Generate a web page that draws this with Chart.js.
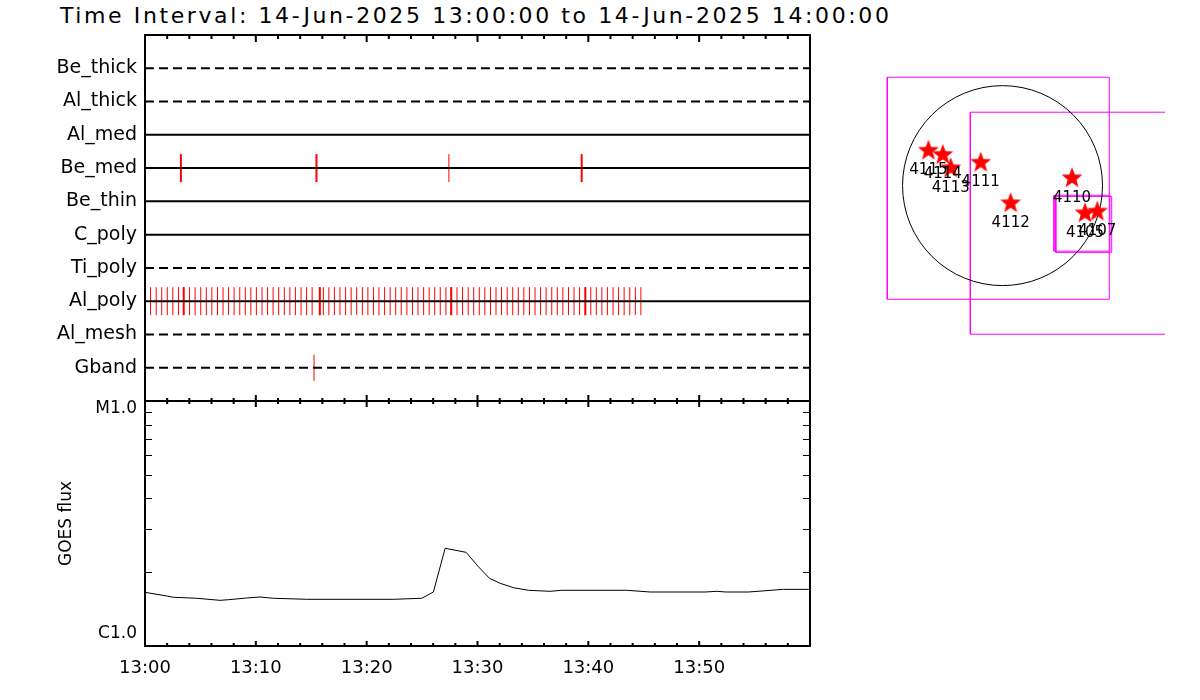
<!DOCTYPE html>
<html><head><meta charset="utf-8">
<script src="https://cdn.jsdelivr.net/npm/chart.js@4.4.1/dist/chart.umd.min.js"></script>
<style>
body{margin:0;background:#fff;width:1200px;height:700px;overflow:hidden;position:relative;font-family:"DejaVu Sans",sans-serif;}
canvas{position:absolute;}
#title{position:absolute;left:60px;top:3px;font-size:22px;letter-spacing:2.6px;color:#000;white-space:nowrap;line-height:26px;}
</style></head><body>
<div id="title">Time Interval: 14-Jun-2025 13:00:00 to 14-Jun-2025 14:00:00</div>
<canvas id="c1" width="820" height="450" style="left:0;top:0"></canvas>
<canvas id="c2" width="820" height="330" style="left:0;top:370px"></canvas>
<canvas id="c3" width="290" height="290" style="left:875px;top:60px"></canvas>
<script>
// ---------------- DATA ----------------
const filterNames = ['Be_thick','Al_thick','Al_med','Be_med','Be_thin','C_poly','Ti_poly','Al_poly','Al_mesh','Gband'];
// exposure times, minutes after 13:00
const beMedTimes = [3.24, 15.47, 27.42, 39.40];
const gbandTimes = [15.25];
const alPolyTimes = [0.00,0.50,1.01,1.51,2.01,2.51,3.02,3.49,4.02,4.52,5.03,5.53,6.03,6.54,7.04,7.54,8.04,8.55,9.05,9.55,
  10.05,10.56,11.06,11.56,12.06,12.57,13.07,13.57,14.08,14.58,15.08,15.77,16.09,16.59,17.09,17.59,18.10,18.60,19.10,19.61,
  20.11,20.61,21.11,21.62,22.12,22.62,23.12,23.63,24.13,24.63,25.14,25.64,26.14,26.64,27.15,27.63,28.15,28.65,29.16,29.66,
  30.16,30.66,31.17,31.67,32.17,32.68,33.18,33.68,34.18,34.69,35.19,35.69,36.19,36.70,37.20,37.70,38.21,38.71,39.21,39.73,
  40.22,40.72,41.22,41.72,42.23,42.73,43.23,43.74,44.24,44.74];
const alPolyDoubleTimes = [3.49, 15.77, 27.63, 39.73];

const timeTickMinutes = [0, 10, 20, 30, 40, 50];
const timeTickLabels = ['13:00','13:10','13:20','13:30','13:40','13:50'];
const majorTickMinutes = [0, 10, 20, 30, 40, 50, 60];
const minorTickMinutes = [2,4,6,8,12,14,16,18,22,24,26,28,32,34,36,38,42,44,46,48,52,54,56,58];

const goesMinutes = [0, 1.96, 2.55, 4.67, 6.77, 7.52, 9.18, 10.38, 11.58, 14.59, 22.41, 24.97, 26.02, 27.08, 28.97,
  30.08, 31.08, 32.04, 33.24, 34.59, 36.55, 37.61, 43.47, 45.58, 50.54, 51.60, 52.4, 54.45, 57.61, 59.96];
const goesFlux = [1.656e-6, 1.600e-6, 1.581e-6, 1.566e-6, 1.536e-6, 1.545e-6, 1.570e-6, 1.585e-6, 1.566e-6, 1.551e-6,
  1.551e-6, 1.566e-6, 1.661e-6, 2.505e-6, 2.412e-6, 2.107e-6, 1.889e-6, 1.803e-6, 1.730e-6, 1.688e-6,
  1.672e-6, 1.688e-6, 1.688e-6, 1.661e-6, 1.661e-6, 1.672e-6, 1.661e-6, 1.661e-6, 1.703e-6, 1.703e-6];
const goesMinorTicks = [2e-6, 3e-6, 4e-6, 5e-6, 6e-6, 7e-6, 8e-6, 9e-6];
const goesTickValues = [1e-5, 1e-6];
const goesTickLabels = ['M1.0', 'C1.0'];

const arNumbers = ['4115','4114','4113','4111','4112','4110','4105','4107'];
const arX = [-700, -564, -489, -206, 77, 656, 779, 895];   // arcsec
const arY = [330, 290, 164, 217, -166, 70, -261, -245];
const solarRadius = 944;
const fovCenterX = [-40, 744, 750, 767];
const fovCenterY = [-25, -355, -355, -366];
const fovSize = [2096, 2096, 528, 528];

// ---------------- STYLE ----------------
const FONT = 'DejaVu Sans';
const dashedRows = {Be_thick:true, Al_thick:true, Ti_poly:true, Al_mesh:true, Gband:true};
const rowY = n => filterNames.indexOf(n) + 1;

function drawXTicks(ctx, xs, y, up, down, lw) {
  ctx.lineWidth = lw;
  ctx.beginPath();
  for (const px of xs) { ctx.moveTo(px, y - up); ctx.lineTo(px, y + down); }
  ctx.stroke();
}

const frame1 = {
  id: 'frame1',
  afterDatasetsDraw(chart) {
    const {ctx, chartArea: a, scales: {x}} = chart;
    ctx.save();
    ctx.strokeStyle = '#000';
    ctx.lineWidth = 2;
    ctx.strokeRect(a.left, a.top, a.right - a.left, a.bottom - a.top);
    const maj = majorTickMinutes.map(v => x.getPixelForValue(v));
    const min = minorTickMinutes.map(v => x.getPixelForValue(v));
    drawXTicks(ctx, maj, a.top, 0, 7, 2);
    drawXTicks(ctx, min, a.top, 0, 4, 2);
    drawXTicks(ctx, maj, a.bottom, 6, 0, 2);
    drawXTicks(ctx, min, a.bottom, 3, 0, 2);
    ctx.restore();
  }
};

const frame2 = {
  id: 'frame2',
  afterDatasetsDraw(chart) {
    const {ctx, chartArea: a, scales: {x, y}} = chart;
    ctx.save();
    ctx.strokeStyle = '#000';
    ctx.lineWidth = 2;
    ctx.strokeRect(a.left, a.top, a.right - a.left, a.bottom - a.top);
    const maj = majorTickMinutes.map(v => x.getPixelForValue(v));
    const min = minorTickMinutes.map(v => x.getPixelForValue(v));
    drawXTicks(ctx, maj, a.top, 0, 6, 2);
    drawXTicks(ctx, min, a.top, 0, 3, 2);
    drawXTicks(ctx, maj, a.bottom, 5, 0, 2);
    drawXTicks(ctx, min, a.bottom, 3, 0, 2);
    ctx.lineWidth = 1;
    ctx.beginPath();
    for (const v of goesMinorTicks) {
      const py = Math.round(y.getPixelForValue(v)) + 0.5;
      ctx.moveTo(a.left, py); ctx.lineTo(a.left + 7, py);
      ctx.moveTo(a.right, py); ctx.lineTo(a.right - 7, py);
    }
    ctx.stroke();
    ctx.fillStyle = '#000';
    ctx.font = '17px "' + FONT + '"';
    ctx.textAlign = 'right';
    ctx.textBaseline = 'middle';
    const offs = [8, -12];
    goesTickValues.forEach((v, i) => {
      ctx.fillText(goesTickLabels[i], a.left - 8, y.getPixelForValue(v) + offs[i]);
    });
    ctx.restore();
  }
};

const arLabels = {
  id: 'arLabels',
  afterDatasetsDraw(chart) {
    const {ctx} = chart;
    const meta = chart.getDatasetMeta(chart.data.datasets.length - 1);
    ctx.save();
    ctx.fillStyle = '#000';
    ctx.font = '15px "' + FONT + '"';
    ctx.textAlign = 'center';
    ctx.textBaseline = 'middle';
    meta.data.forEach((el, i) => ctx.fillText(arNumbers[i], el.x, el.y + 19.5));
    ctx.restore();
  }
};

function makeStar(r) {
  const c = document.createElement('canvas');
  c.width = c.height = 2 * r + 2;
  const g = c.getContext('2d');
  g.fillStyle = '#ff0000';
  g.beginPath();
  for (let i = 0; i < 10; i++) {
    const ang = -Math.PI / 2 + i * Math.PI / 5;
    const rr = i % 2 ? r * 0.42 : r;
    g.lineTo(r + 1 + rr * Math.cos(ang), r + 1 + rr * Math.sin(ang));
  }
  g.closePath();
  g.fill();
  return c;
}

const common = {
  responsive: false, animation: false, events: [],
  plugins: {legend: {display: false}, tooltip: {enabled: false}, title: {display: false}}
};

// ---------------- CHART 1: filter timeline ----------------
const tickSet = (times, name, r, widths) => ({
  data: times.map(t => ({x: t, y: rowY(name)})),
  pointStyle: 'line', pointRotation: 90, pointRadius: r, pointHoverRadius: r,
  pointBorderColor: '#ff0000', pointBorderWidth: widths, order: 1
});
new Chart(document.getElementById('c1'), {
  type: 'scatter',
  data: {datasets: [
    ...filterNames.map(n => ({
      data: [{x: 0, y: rowY(n)}, {x: 60, y: rowY(n)}],
      showLine: true, borderColor: '#000', borderWidth: 2,
      borderDash: dashedRows[n] ? [9, 5] : [], pointRadius: 0, order: 0
    })),
    tickSet(beMedTimes, 'Be_med', 14, [2, 2, 1, 2]),
    tickSet(gbandTimes, 'Gband', 13, 1),
    tickSet(alPolyTimes, 'Al_poly', 14, 1),
    tickSet(alPolyDoubleTimes, 'Al_poly', 14, 2)
  ]},
  options: {
    ...common,
    layout: {autoPadding: false, padding: {top: 35, right: 10, bottom: 49, left: 0}},
    scales: {
      x: {type: 'linear', min: 0, max: 60, display: false},
      y: {
        type: 'linear', min: 0, max: 11, reverse: true,
        grid: {display: false, drawTicks: false}, border: {display: false},
        afterBuildTicks: s => { s.ticks = filterNames.map((n, i) => ({value: i + 1})); },
        ticks: {autoSkip: false, callback: v => filterNames[v - 1] || '', font: {family: FONT, size: 19}, color: '#000', padding: 8},
        afterFit: s => { s.width = 145; }
      }
    }
  },
  plugins: [frame1]
});

// ---------------- CHART 2: GOES flux ----------------
new Chart(document.getElementById('c2'), {
  type: 'scatter',
  data: {datasets: [{
    data: goesMinutes.map((m, i) => ({x: m, y: goesFlux[i]})),
    showLine: true, borderColor: '#000', borderWidth: 1, pointRadius: 0
  }]},
  options: {
    ...common,
    layout: {autoPadding: false, padding: {top: 31, right: 10, bottom: 0, left: 0}},
    scales: {
      x: {
        type: 'linear', min: 0, max: 60, grid: {display: false}, border: {display: false},
        afterBuildTicks: s => { s.ticks = timeTickMinutes.map(v => ({value: v})); },
        ticks: {autoSkip: false, maxRotation: 0, callback: v => timeTickLabels[timeTickMinutes.indexOf(v)] || '',
                font: {family: FONT, size: 18}, color: '#000', padding: 4},
        afterFit: s => { s.height = 54; }
      },
      y: {
        type: 'logarithmic', min: 1e-6, max: 1e-5, grid: {display: false}, border: {display: false},
        ticks: {display: false},
        title: {display: true, text: 'GOES flux', color: '#000', font: {family: FONT, size: 17}, padding: {top: 56, bottom: 0}},
        afterFit: s => { s.width = 145; }
      }
    }
  },
  plugins: [frame2]
});

// ---------------- CHART 3: solar map ----------------
const fovBox = i => {
  const h = fovSize[i] / 2, cx = fovCenterX[i], cy = fovCenterY[i];
  return [{x: cx - h, y: cy - h}, {x: cx + h, y: cy - h}, {x: cx + h, y: cy + h}, {x: cx - h, y: cy + h}, {x: cx - h, y: cy - h}];
};
new Chart(document.getElementById('c3'), {
  type: 'scatter',
  data: {datasets: [
    ...fovCenterX.map((_, i) => ({data: fovBox(i), showLine: true, borderColor: '#ff00ff', borderWidth: 1, pointRadius: 0, order: 3})),
    {data: [{x: 0, y: 0}], order: 2, pointStyle: 'circle', pointBackgroundColor: 'rgba(0,0,0,0)', pointBorderColor: '#000', pointBorderWidth: 1,
     pointRadius: ctx => { const s = ctx.chart.scales.x; return Math.abs(s.getPixelForValue(solarRadius) - s.getPixelForValue(0)); }},
    {data: arX.map((x, i) => ({x: x, y: arY[i]})), order: 1, pointStyle: makeStar(11), pointRadius: 11}
  ]},
  options: {
    ...common,
    layout: {autoPadding: false, padding: 0},
    scales: {
      x: {type: 'linear', min: -1204, max: 1534, display: false},
      y: {type: 'linear', min: -1552, max: 1186, display: false}
    }
  },
  plugins: [arLabels]
});
</script>
</body></html>
